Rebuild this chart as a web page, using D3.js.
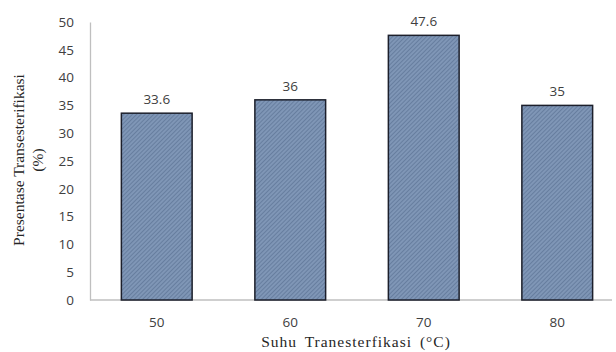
<!DOCTYPE html>
<html>
<head>
<meta charset="utf-8">
<script src="https://cdn.jsdelivr.net/npm/d3@7"></script>
<style>
  body { margin: 0; background: #fff; }
</style>
</head>
<body>
<svg width="616" height="352"></svg>
<script>
var categories = ["50", "60", "70", "80"];
var values = [33.6, 36, 47.6, 35];
var valueLabels = ["33.6", "36", "47.6", "35"];
var yTicks = [0, 5, 10, 15, 20, 25, 30, 35, 40, 45, 50];

var svg = d3.select("svg"),
  plotLeft = 90, plotRight = 624, plotTop = 22, plotBottom = 300;

// hatch pattern for the bars
var defs = svg.append("defs");
var pat = defs.append("pattern")
  .attr("id", "hatch")
  .attr("patternUnits", "userSpaceOnUse")
  .attr("width", 3)
  .attr("height", 3)
  .attr("patternTransform", "rotate(45)");
pat.append("rect").attr("width", 3).attr("height", 3).attr("fill", "#7f96b6");
pat.append("line")
  .attr("x1", 0).attr("y1", 0).attr("x2", 0).attr("y2", 3)
  .attr("stroke", "#536a8c").attr("stroke-width", 1.1);

var x = d3.scaleBand()
  .domain(categories)
  .range([plotLeft, plotRight])
  .paddingInner(0.47)
  .paddingOuter(0.235);

var y = d3.scaleLinear()
  .domain([0, 50])
  .range([plotBottom, plotTop]);

// y axis
var gy = svg.append("g")
  .attr("transform", "translate(" + plotLeft + ",0)")
  .call(d3.axisLeft(y).tickValues(yTicks).tickSize(0).tickPadding(16));
gy.select(".domain").attr("stroke", "#bfbfbf").attr("stroke-width", 1.3);
gy.selectAll("text")
  .attr("font-family", "'Open Sans', sans-serif")
  .attr("font-size", 13.5)
  .attr("fill", "#404040");

// x axis
var gx = svg.append("g")
  .attr("transform", "translate(0," + plotBottom + ")")
  .call(d3.axisBottom(x).tickSize(0).tickPadding(17));
gx.select(".domain").attr("d", "M" + plotLeft + ",0H612").attr("stroke", "#bfbfbf").attr("stroke-width", 1.3);
gx.selectAll("text")
  .attr("font-family", "'Open Sans', sans-serif")
  .attr("font-size", 13.5)
  .attr("fill", "#404040");

// bars
svg.selectAll(".bar")
  .data(values)
  .enter().append("rect")
  .attr("class", "bar")
  .attr("x", function(d, i) { return x(categories[i]); })
  .attr("y", function(d) { return y(d); })
  .attr("width", x.bandwidth())
  .attr("height", function(d) { return plotBottom - y(d); })
  .attr("fill", "url(#hatch)")
  .attr("stroke", "#1c1f2b")
  .attr("stroke-width", 1.5);

// value labels
svg.selectAll(".lbl")
  .data(values)
  .enter().append("text")
  .attr("class", "lbl")
  .attr("x", function(d, i) { return x(categories[i]) + x.bandwidth() / 2; })
  .attr("y", function(d) { return y(d) - 9; })
  .attr("text-anchor", "middle")
  .attr("font-family", "'Open Sans', sans-serif")
  .attr("font-size", 13.5)
  .attr("fill", "#404040")
  .text(function(d, i) { return valueLabels[i]; });

// axis titles
var yt = svg.append("text")
  .attr("transform", "translate(24,160) rotate(-90)")
  .attr("text-anchor", "middle")
  .attr("font-family", "'Liberation Serif', 'Times New Roman', serif")
  .attr("font-size", 15.5)
  .attr("fill", "#262626");
yt.append("tspan").attr("x", 0).attr("dy", 0).text("Presentase Transesterifikasi");
yt.append("tspan").attr("x", 0).attr("dy", 19).text("(%)");

svg.append("text")
  .attr("x", 356)
  .attr("y", 347)
  .attr("text-anchor", "middle")
  .attr("font-family", "'Liberation Serif', 'Times New Roman', serif")
  .attr("font-size", 15.5)
  .attr("letter-spacing", 1)
  .attr("word-spacing", 3)
  .attr("fill", "#262626")
  .text("Suhu Tranesterfikasi (°C)");
</script>
</body>
</html>
